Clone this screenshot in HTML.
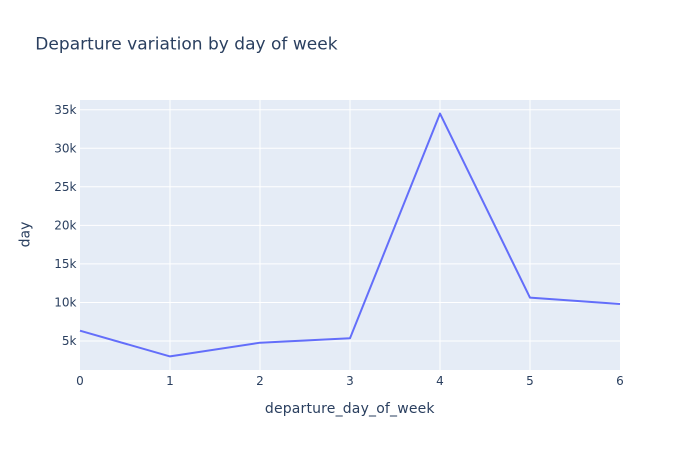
<!DOCTYPE html>
<html>
<head>
<meta charset="utf-8">
<style>
html,body{margin:0;padding:0;background:#fff;}
svg{display:block;}
text{font-family:"DejaVu Sans","Liberation Sans",sans-serif;fill:#2a3f5f;}
</style>
</head>
<body>
<svg id="chart" width="700" height="450" viewBox="0 0 700 450" xmlns="http://www.w3.org/2000/svg">
  <rect x="0" y="0" width="700" height="450" fill="#ffffff"/>
  <rect x="80" y="100" width="540" height="270" fill="#e5ecf6"/>
  <g id="grid"></g>
  <g id="series"></g>
  <g id="ticks"></g>
  <text x="35.3" y="49.5" font-size="17" textLength="302.3" lengthAdjust="spacing">Departure variation by day of week</text>
  <text x="264.9" y="413" font-size="14" textLength="169.6" lengthAdjust="spacing">departure_day_of_week</text>
  <text x="0" y="0" font-size="14" text-anchor="middle" transform="translate(29.5,234.5) rotate(-90)">day</text>
</svg>
<script>
const days = [0, 1, 2, 3, 4, 5, 6];
const departures = [6340, 3000, 4780, 5350, 34500, 10620, 9800];
const xTickValues = [0, 1, 2, 3, 4, 5, 6];
const yTickValues = [5000, 10000, 15000, 20000, 25000, 30000, 35000];
const yTickLabels = ['5k', '10k', '15k', '20k', '25k', '30k', '35k'];

const NS = 'http://www.w3.org/2000/svg';
const plotLeft = 80, plotRight = 620, plotTop = 100, plotBottom = 370;
const xMin = 0, xMax = 6;
const yMin = 1238, yMax = 36260;

function xScale(v) {
  return plotLeft + (v - xMin) / (xMax - xMin) * (plotRight - plotLeft);
}
function yScale(v) {
  return plotBottom - (v - yMin) / (yMax - yMin) * (plotBottom - plotTop);
}
function makeEl(tag, attrs) {
  const el = document.createElementNS(NS, tag);
  Object.keys(attrs).forEach(function (k) { el.setAttribute(k, attrs[k]); });
  return el;
}

const grid = document.getElementById('grid');
const ticks = document.getElementById('ticks');
const series = document.getElementById('series');

xTickValues.forEach(function (v) {
  const x = xScale(v);
  if (v !== xMin && v !== xMax) {
    const line = makeEl('line', {x1: x, x2: x, y1: plotTop, y2: plotBottom, stroke: '#ffffff', 'stroke-width': 1});
    
    
    grid.appendChild(line);
  }
  const label = makeEl('text', {x: x, y: 385, 'font-size': 12, 'text-anchor': 'middle'});
  label.textContent = String(v);
  
  
  ticks.appendChild(label);
});

yTickValues.forEach(function (v, i) {
  const y = yScale(v);
  const line = makeEl('line', {x1: plotLeft, x2: plotRight, y1: y, y2: y, stroke: '#ffffff', 'stroke-width': 1});
  
  
  grid.appendChild(line);
  const label = makeEl('text', {x: 76.5, y: y + 4.2, 'font-size': 12, 'text-anchor': 'end'});
  label.textContent = yTickLabels[i];
  
  
  ticks.appendChild(label);
});

const points = days.map(function (d, i) {
  return xScale(d) + ',' + yScale(departures[i]);
}).join(' ');
const path = makeEl('polyline', {points: points, fill: 'none', stroke: '#636efa', 'stroke-width': 2, 'stroke-linejoin': 'round'});


series.appendChild(path);
</script>
</body>
</html>
